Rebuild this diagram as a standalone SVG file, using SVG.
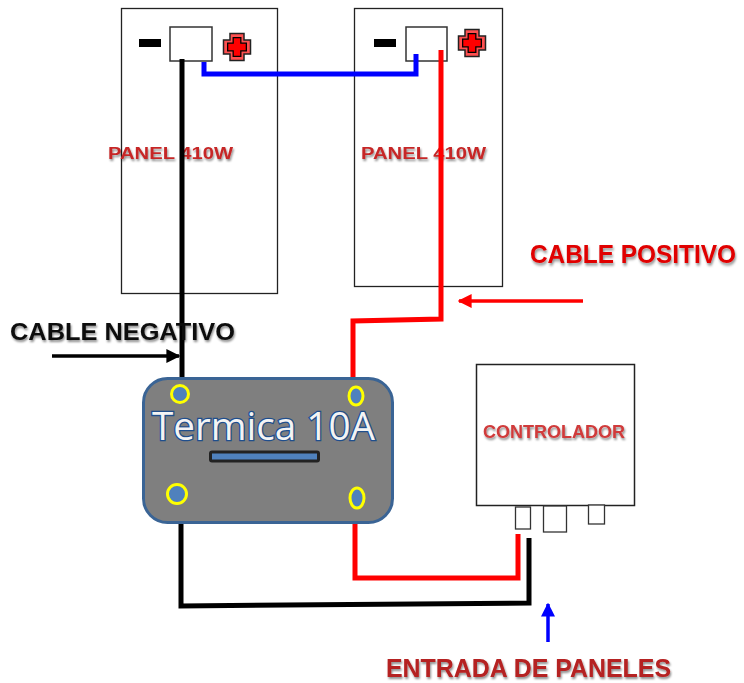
<svg xmlns="http://www.w3.org/2000/svg" width="744" height="683" viewBox="0 0 744 683">
<style>
.panel{fill:#fff;stroke:#222;stroke-width:1.3}
.term{fill:#fff;stroke:#333;stroke-width:1.5}
.minus{fill:#000}
.wire{fill:none;stroke-width:5;stroke-linejoin:miter}
.lbl{font-family:"Liberation Sans",Arial,sans-serif;font-weight:bold}
.plbl{fill:#c62828;font-size:16px;filter:url(#sh)}
.port{fill:#fff;stroke:#333;stroke-width:1.3}
.hole{fill:#4f81bd;stroke:#ffff00;stroke-width:3}
</style>
<defs>
<filter id="sh" x="-5%" y="-30%" width="110%" height="180%">
<feDropShadow dx="1" dy="2" stdDeviation="1.3" flood-color="#000" flood-opacity="0.45"/>
</filter>
<marker id="ar" viewBox="0 0 10 10" refX="9" refY="5" markerWidth="4" markerHeight="4" orient="auto" markerUnits="strokeWidth"><path d="M0,0 L10,5 L0,10 Z" fill="#f00"/></marker>
<marker id="ak" viewBox="0 0 10 10" refX="9" refY="5" markerWidth="4" markerHeight="4" orient="auto" markerUnits="strokeWidth"><path d="M0,0 L10,5 L0,10 Z" fill="#000"/></marker>
<marker id="ab" viewBox="0 0 10 10" refX="9" refY="5" markerWidth="4" markerHeight="4" orient="auto" markerUnits="strokeWidth"><path d="M0,0 L10,5 L0,10 Z" fill="#00f"/></marker>
<path id="cross" d="M-4.5,-11 H4.5 V-4.5 H11 V4.5 H4.5 V11 H-4.5 V4.5 H-11 V-4.5 H-4.5 Z"/>
</defs>

<g id="panel1">
<rect class="panel" x="121.5" y="8.5" width="156" height="285"/>
<rect class="term" x="170" y="27" width="42" height="34"/>
<rect class="minus" x="139" y="39" width="22" height="8"/>
<g transform="translate(237,47)">
<use href="#cross" fill="none" stroke="#222" stroke-width="6.5"/>
<use href="#cross" fill="none" stroke="#ff5050" stroke-width="3.5"/>
<use href="#cross" fill="#f00" stroke="#000" stroke-width="1.5" transform="scale(0.85)"/>
</g>
<text class="lbl plbl" x="108" y="159" textLength="125" lengthAdjust="spacingAndGlyphs">PANEL 410W</text>
</g>

<g id="panel2">
<rect class="panel" x="354.5" y="8.5" width="148" height="278"/>
<rect class="term" x="406" y="27" width="41" height="34"/>
<rect class="minus" x="374" y="39" width="22" height="8"/>
<g transform="translate(472,43)">
<use href="#cross" fill="none" stroke="#222" stroke-width="6.5"/>
<use href="#cross" fill="none" stroke="#ff5050" stroke-width="3.5"/>
<use href="#cross" fill="#f00" stroke="#000" stroke-width="1.5" transform="scale(0.85)"/>
</g>
<text class="lbl plbl" x="361" y="159" textLength="125" lengthAdjust="spacingAndGlyphs">PANEL 410W</text>
</g>

<g id="connectors">
<polyline class="wire" stroke="#00f" points="204,62 204,74 416,74 416,54"/>
<polyline class="wire" stroke="#000" points="182,59 182,380"/>
<polyline class="wire" stroke="#f00" points="441,50 441,319 353,321 353,380"/>
<polyline class="wire" stroke="#000" points="181,522 181,606 529,603 529,538"/>
<polyline class="wire" stroke="#f00" points="355,522 355,578 518,578 518,534"/>
<line x1="583" y1="301" x2="459" y2="301" stroke="#f00" stroke-width="3.5" marker-end="url(#ar)"/>
<line x1="52" y1="356" x2="179" y2="356" stroke="#000" stroke-width="3.5" marker-end="url(#ak)"/>
<line x1="548" y1="642" x2="548" y2="604" stroke="#00f" stroke-width="3.5" marker-end="url(#ab)"/>
</g>

<g id="termica">
<rect x="143.5" y="378.5" width="249" height="144" rx="24" fill="#7f7f7f" stroke="#3a6495" stroke-width="3"/>
<circle class="hole" cx="180" cy="394" r="8.5"/>
<ellipse class="hole" cx="356" cy="396" rx="7" ry="9"/>
<circle class="hole" cx="177" cy="494" r="9.5"/>
<ellipse class="hole" cx="357" cy="498" rx="7" ry="10"/>
<rect x="210.5" y="452" width="108" height="9" rx="1.5" fill="#4f81bd" stroke="#222" stroke-width="3"/>
<text x="152" y="440" font-family="'Open Sans','Liberation Sans',sans-serif" font-size="38" fill="#f4f4f4" stroke="#1f4e8c" stroke-width="2.6" paint-order="stroke" textLength="223" lengthAdjust="spacingAndGlyphs">Termica 10A</text>
</g>

<g id="controlador">
<rect x="476.5" y="364.5" width="158" height="141" fill="#fff" stroke="#222" stroke-width="1.5"/>
<rect class="port" x="515.5" y="507" width="15" height="22"/>
<rect class="port" x="543.5" y="506" width="23" height="26"/>
<rect class="port" x="588.5" y="505" width="16" height="19"/>
<text class="lbl" x="483" y="438" font-size="18" fill="#d03a3a" filter="url(#sh)" textLength="142" lengthAdjust="spacingAndGlyphs">CONTROLADOR</text>
</g>

<g id="labels">
<text class="lbl" transform="translate(530,263) scale(1,1.18)" x="0" y="0" font-size="22" fill="#e00000" filter="url(#sh)" textLength="206" lengthAdjust="spacingAndGlyphs">CABLE POSITIVO</text>
<text class="lbl" x="10" y="340" font-size="24" fill="#111" filter="url(#sh)" textLength="225" lengthAdjust="spacingAndGlyphs">CABLE NEGATIVO</text>
<text class="lbl" x="386" y="677" font-size="26" fill="#b52020" filter="url(#sh)" textLength="285" lengthAdjust="spacingAndGlyphs">ENTRADA DE PANELES</text>
</g>
</svg>
